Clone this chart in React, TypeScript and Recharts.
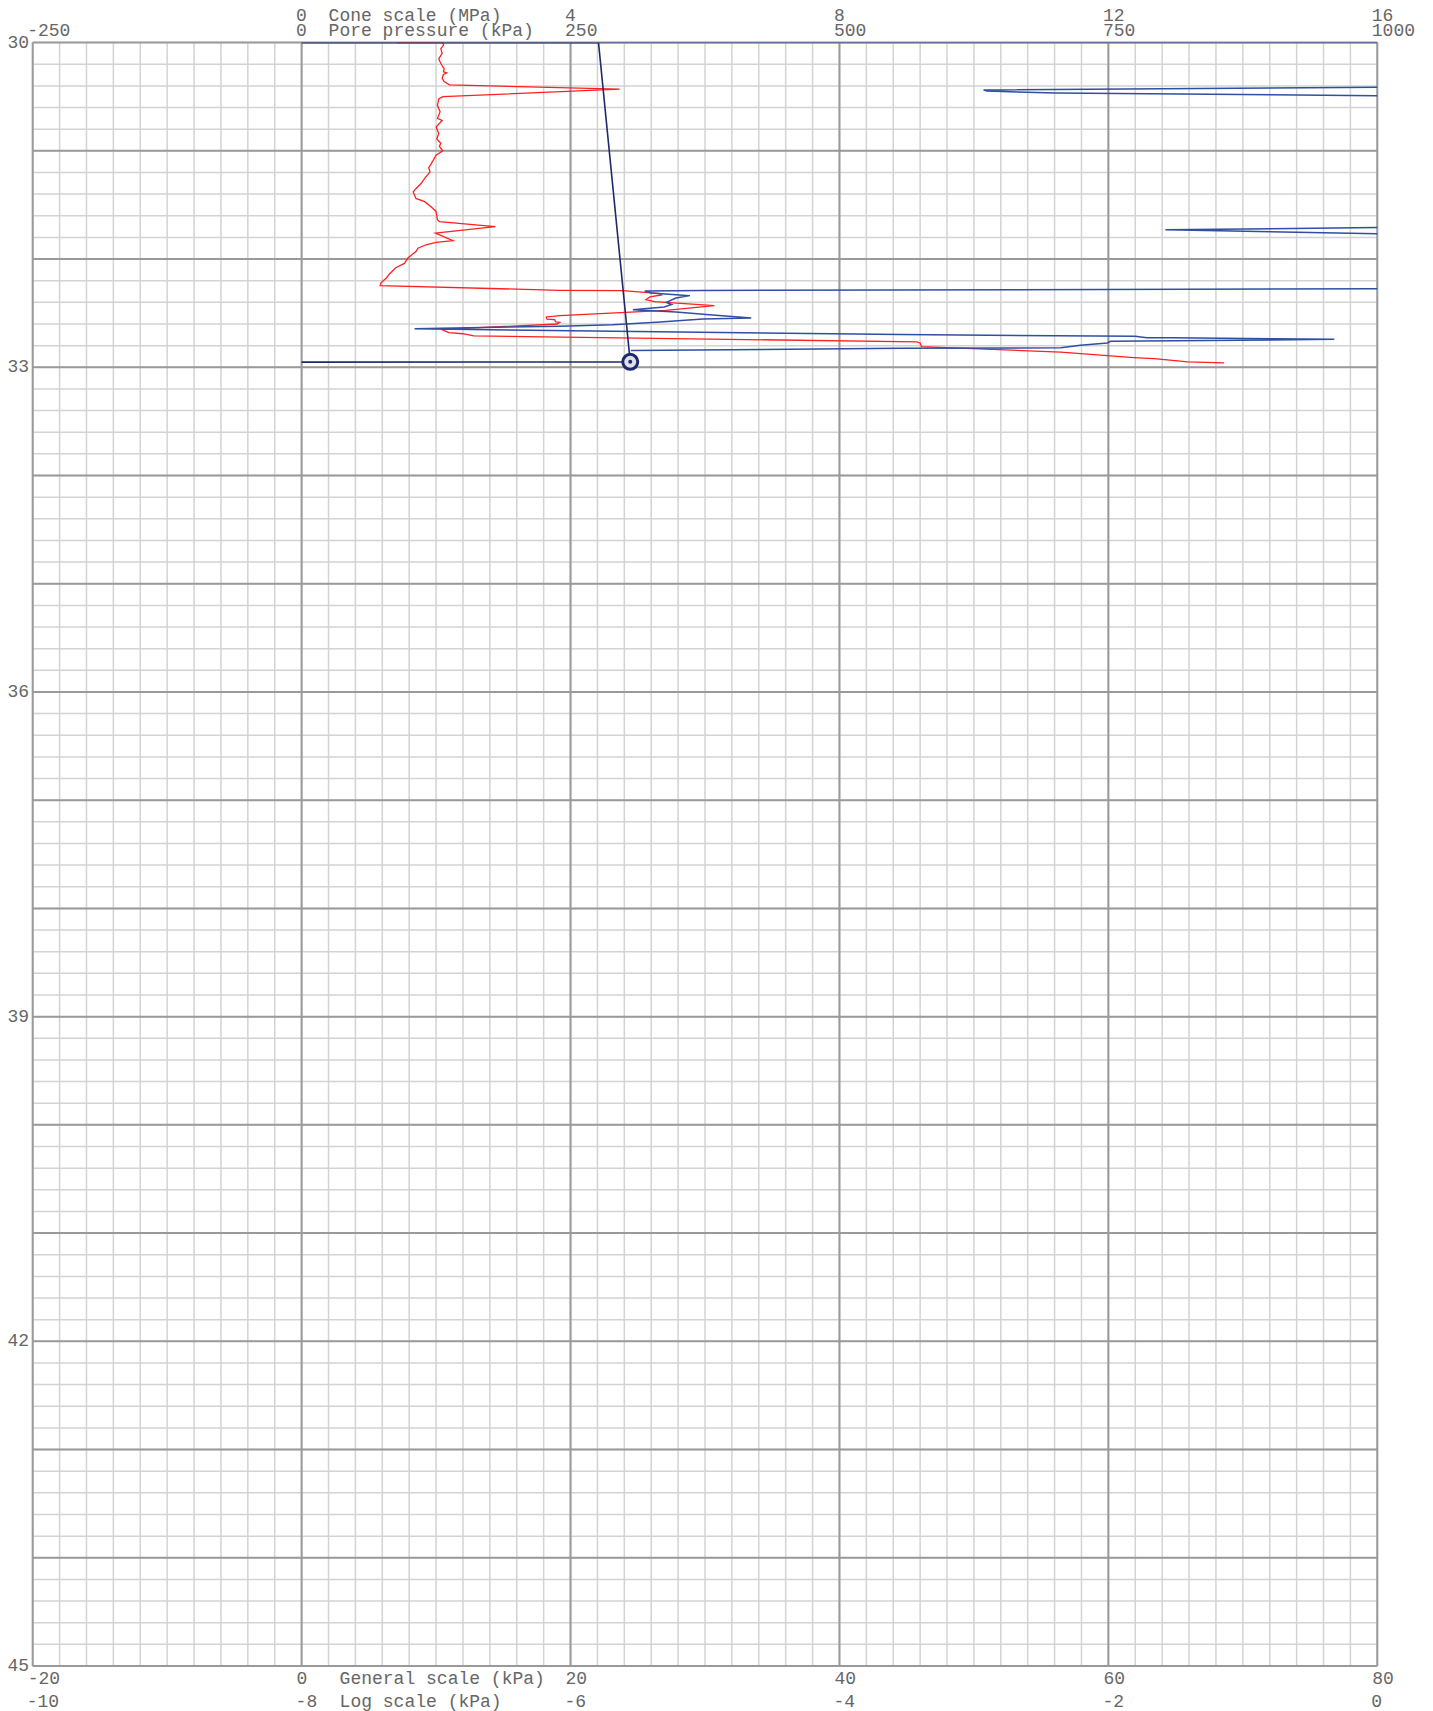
import React from 'react';
import { LineChart, Line, XAxis, YAxis, CartesianGrid } from 'recharts';

// ---- Cone resistance qc (MPa) vs depth (m)
const qcDepth = [
  30.0, 30.0, 30.025, 30.055, 30.1, 30.15, 30.18, 30.225, 30.24, 30.27, 30.28, 30.295, 30.33, 30.36, 30.39,
  30.43, 30.5, 30.52, 30.58, 30.64, 30.7, 30.72, 30.78, 30.84, 30.89, 30.93, 30.96, 31.0, 31.04, 31.095,
  31.157, 31.194, 31.255, 31.3, 31.35, 31.38, 31.44, 31.47, 31.52, 31.56, 31.637, 31.655, 31.7, 31.76,
  31.83, 31.846, 31.868, 31.9, 31.93, 31.99, 32.04, 32.08, 32.135, 32.175, 32.22, 32.245, 32.289, 32.292,
  32.308, 32.32, 32.332, 32.35, 32.375, 32.394, 32.43, 32.474, 32.523, 32.535, 32.555, 32.56, 32.58,
  32.585, 32.6, 32.65, 32.68, 32.69, 32.71, 32.765, 32.775, 32.81, 32.86, 32.91, 32.92, 32.95, 32.96,
];
const qcValue = [
  1.42, 2.1, 2.11, 2.07, 2.09, 2.04, 2.06, 2.1, 2.12, 2.11, 2.16, 2.11, 2.09, 2.12, 2.2,
  4.73, 2.1, 2.04, 2.02, 2.06, 2.02, 2.09, 2.0, 2.04, 2.01, 2.07, 2.05, 2.1, 2.0, 1.95,
  1.89, 1.91, 1.83, 1.78, 1.7, 1.66, 1.7, 1.83, 1.93, 2.0, 2.02, 2.05, 2.88, 1.99,
  2.25, 2.0, 1.85, 1.73, 1.7, 1.58, 1.53, 1.4, 1.31, 1.26, 1.18, 1.17, 3.84, 4.78,
  5.1, 5.33, 5.35, 5.18, 5.12, 5.25, 6.14, 5.42, 3.84, 3.64, 3.65, 3.76, 3.78,
  3.84, 3.8, 2.08, 2.19, 2.4, 2.56, 9.15, 9.2, 9.22, 11.29, 12.38, 12.68, 13.18, 13.72,
];

// ---- Pore pressure u2 (kPa) vs depth (m)
const u2Depth = [
  30.0, 30.0, 30.406, 30.413, 30.438, 30.448, 30.466, 30.49, 30.498, 31.698, 31.709, 31.73, 31.767, 31.786,
  32.27, 32.274, 32.29, 32.295, 32.314, 32.338, 32.36, 32.4, 32.42, 32.443, 32.468, 32.49, 32.514, 32.545,
  32.554, 32.585, 32.606, 32.62, 32.645, 32.698, 32.714, 32.72, 32.726, 32.726, 32.742, 32.76, 32.775,
  32.797, 32.82, 32.825, 32.845,
];
const u2Value = [
  276, 1100, 1100, 1000, 634, 637, 701, 1000, 1100, 1100, 1000, 803, 1000, 1100,
  1100, 1000, 371, 319, 325, 361, 348, 339, 344, 337, 308, 348, 379, 418,
  373, 330, 289, 240, 105, 557, 775, 780, 786, 810, 960, 752, 749,
  724, 706, 557, 306,
];

// ---- Hydrostatic pore pressure u0 (kPa) vs depth (m)
const u0Depth = [30.0, 30.0, 32.95, 32.952];
const u0Value = [0, 276, 305.5, 0];

// ---- Axis ticks / labels
const poreTicks = [-250, 0, 250, 500, 750, 1000];
const coneTickLabels = ['', '0', '4', '8', '12', '16'];
const generalTicks = [-20, 0, 20, 40, 60, 80];
const logTickLabels = ['-10', '-8', '-6', '-4', '-2', '0'];
const depthTicks = [30, 33, 36, 39, 42, 45];

const coneTitle = 'Cone scale (MPa)';
const poreTitle = 'Pore pressure (kPa)';
const generalTitle = 'General scale (kPa)';
const logTitle = 'Log scale (kPa)';

// grid values
const minorX: number[] = [];
for (let v = -20; v <= 80; v += 2) minorX.push(v);
const majorX = [-20, 0, 20, 40, 60, 80];
const minorY: number[] = [];
for (let i = 0; i <= 75; i++) minorY.push(30 + i * 0.2);
const majorY: number[] = [];
for (let v = 30; v <= 45; v += 1) majorY.push(v);

const qcData = qcDepth.map((d, i) => ({ d, qc: qcValue[i] }));
const u2Data = u2Depth.map((d, i) => ({ d, u: u2Value[i] }));
const u0Data = u0Depth.map((d, i) => ({ d, u: u0Value[i] }));

const FONT = "'Liberation Mono', 'DejaVu Sans Mono', monospace";
const TXT = '#666';
const NAVY = '#1e2a6b';

const W = 1433;
const H = 1711;
// axes take 1px each (height/width 1) so the plot area is 32.7..1377.3 x 42.6..1666
const M = { top: 41.6, left: 31.7, right: 55.7, bottom: 44 };

const tStyle = { fontFamily: FONT, fontSize: 18, fill: TXT } as const;

const TopTick = (props: any) => {
  const { x, payload } = props;
  const i = poreTicks.indexOf(payload.value);
  return (
    <g>
      {coneTickLabels[i] ? (
        <text x={x - 5.5} y={20.5} {...tStyle}>{coneTickLabels[i]}</text>
      ) : null}
      <text x={x - 5.5} y={36} {...tStyle}>{String(payload.value)}</text>
      {payload.value === 0 ? (
        <g>
          <text x={x + 27} y={20.5} {...tStyle}>{coneTitle}</text>
          <text x={x + 27} y={36} {...tStyle}>{poreTitle}</text>
        </g>
      ) : null}
    </g>
  );
};

const BottomTick = (props: any) => {
  const { x, payload } = props;
  const i = generalTicks.indexOf(payload.value);
  return (
    <g>
      <text x={x - 5} y={1684} {...tStyle}>{String(payload.value)}</text>
      <text x={x - 6} y={1707} {...tStyle}>{logTickLabels[i]}</text>
      {payload.value === 0 ? (
        <g>
          <text x={x + 38} y={1684} {...tStyle}>{generalTitle}</text>
          <text x={x + 38} y={1707} {...tStyle}>{logTitle}</text>
        </g>
      ) : null}
    </g>
  );
};

const LeftTick = (props: any) => {
  const { y, payload } = props;
  return (
    <text x={29} y={y + 5} textAnchor="end" {...tStyle}>{String(payload.value)}</text>
  );
};

const genX = (vals: number[]) => (p: any) => {
  const xa = p.xAxis;
  if (xa && typeof xa.scale === 'function') return vals.map((v) => xa.scale(v));
  return vals.map((v) => p.offset.left + ((v + 20) / 100) * p.offset.width);
};
const genY = (vals: number[]) => (p: any) => {
  const ya = p.yAxis;
  if (ya && typeof ya.scale === 'function') return vals.map((v) => ya.scale(v));
  return vals.map((v) => p.offset.top + ((v - 30) / 15) * p.offset.height);
};

const HydroDot = (props: any) => {
  const { cx, cy, index } = props;
  if (index !== 2) return <g key={`hd-${index}`} />;
  return (
    <g key={`hd-${index}`}>
      <circle cx={cx} cy={cy} r={7.5} fill="#dfe0ea" stroke={NAVY} strokeWidth={3} />
      <circle cx={cx} cy={cy} r={2} fill={NAVY} />
    </g>
  );
};

export default function App() {
  return (
    <div style={{ position: 'absolute', left: 0, top: 0, width: W, height: H, background: '#fff' }}>
      <LineChart width={W} height={H} margin={M}>
        <CartesianGrid
          xAxisId="gen"
          yAxisId="depth"
          stroke="#d3d3d3"
          strokeWidth={1.5}
          verticalCoordinatesGenerator={genX(minorX)}
          horizontalCoordinatesGenerator={genY(minorY)}
        />
        <CartesianGrid
          xAxisId="gen"
          yAxisId="depth"
          stroke="#9a9a9a"
          strokeWidth={2}
          verticalCoordinatesGenerator={genX(majorX)}
          horizontalCoordinatesGenerator={genY(majorY)}
        />
        <XAxis
          xAxisId="gen"
          type="number"
          dataKey="g"
          orientation="bottom"
          domain={[-20, 80]}
          ticks={generalTicks}
          interval={0}
          allowDataOverflow
          height={1}
          axisLine={false}
          tickLine={false}
          tick={<BottomTick />}
        />
        <XAxis
          xAxisId="pore"
          type="number"
          dataKey="u"
          orientation="top"
          domain={[-250, 1000]}
          ticks={poreTicks}
          interval={0}
          allowDataOverflow
          height={1}
          axisLine={false}
          tickLine={false}
          tick={<TopTick />}
        />
        <XAxis
          xAxisId="cone"
          type="number"
          dataKey="qc"
          orientation="top"
          domain={[-4, 16]}
          allowDataOverflow
          hide
        />
        <YAxis
          yAxisId="depth"
          type="number"
          dataKey="d"
          domain={[30, 45]}
          reversed
          ticks={depthTicks}
          interval={0}
          allowDataOverflow
          width={1}
          axisLine={false}
          tickLine={false}
          tick={<LeftTick />}
        />
        <Line
          data={qcData}
          xAxisId="cone"
          yAxisId="depth"
          dataKey="d"
          type="linear"
          stroke="#ff2020"
          strokeWidth={1.3}
          dot={false}
          isAnimationActive={false}
        />
        <Line
          data={u2Data}
          xAxisId="pore"
          yAxisId="depth"
          dataKey="d"
          type="linear"
          stroke="#2f4fa3"
          strokeWidth={1.5}
          dot={false}
          isAnimationActive={false}
        />
        <Line
          data={u0Data}
          xAxisId="pore"
          yAxisId="depth"
          dataKey="d"
          type="linear"
          stroke={NAVY}
          strokeWidth={1.6}
          dot={<HydroDot />}
          isAnimationActive={false}
        />
      </LineChart>
    </div>
  );
}
